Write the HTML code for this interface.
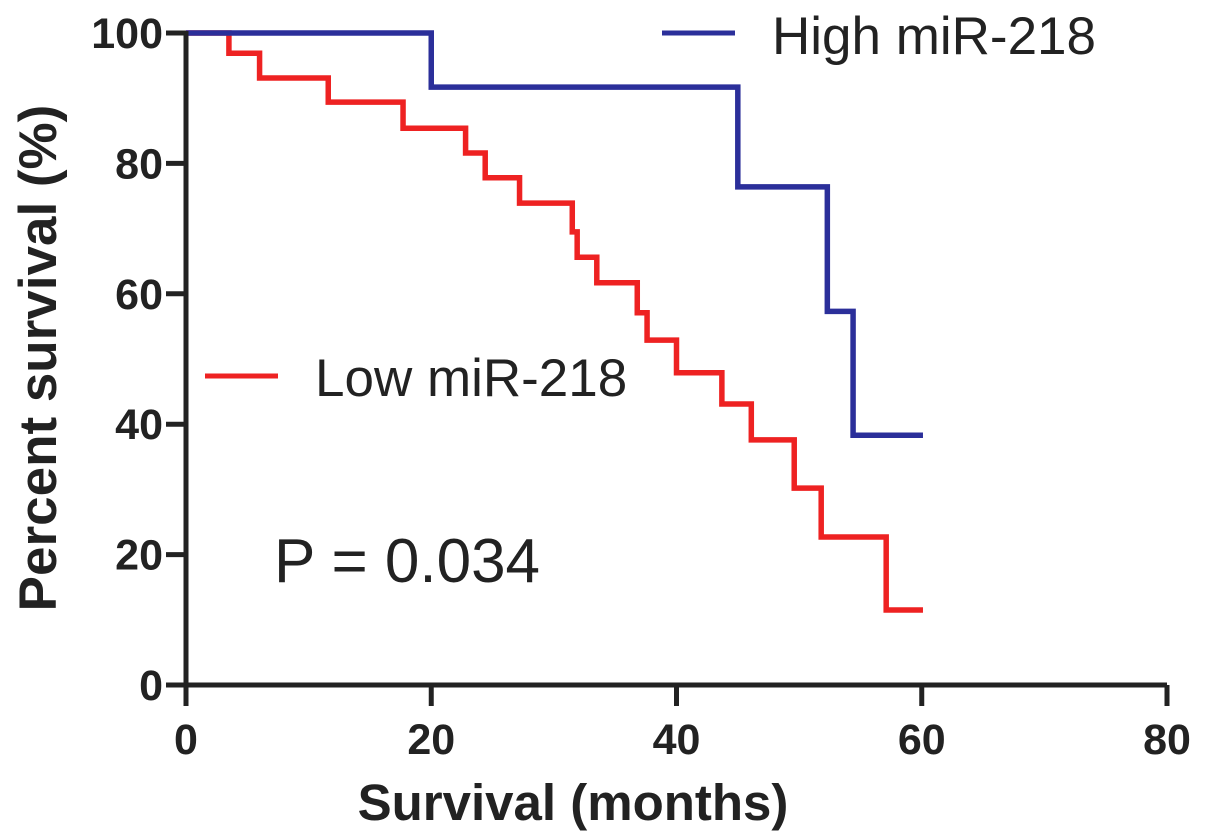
<!DOCTYPE html>
<html><head><meta charset="utf-8"><style>
html,body{margin:0;padding:0;background:#fff;}
svg{display:block;font-family:"Liberation Sans",Arial,sans-serif;}
</style></head><body>
<svg id="chart" width="1205" height="840"></svg>
<script>
const xTicks=[0,20,40,60,80];
const yTicks=[0,20,40,60,80,100];
const highX=[0,20.0,45.0,52.3,54.4,60.1];
const highY=[100,91.7,76.4,57.3,38.3,38.3];
const lowX=[0,3.5,6.0,11.6,17.7,22.8,24.4,27.2,31.5,31.9,33.5,36.8,37.6,40.0,43.7,46.1,49.6,51.8,57.1,60.1];
const lowY=[100,96.9,93.1,89.4,85.4,81.6,77.8,73.9,69.5,65.6,61.7,57.1,52.9,47.9,43.1,37.6,30.2,22.7,11.5,11.5];
const NS='http://www.w3.org/2000/svg';
const svg=document.getElementById('chart');
const X0=186,X1=1167,Y0=685,Y1=33;
const sx=v=>X0+(X1-X0)*v/80;
const sy=v=>Y0-(Y0-Y1)*v/100;
function mk(tag,attrs,parent){const e=document.createElementNS(NS,tag);for(const k in attrs)e.setAttribute(k,attrs[k]);(parent||svg).appendChild(e);return e;}
function step(xs,ys){let d='M'+sx(xs[0])+','+sy(ys[0]);for(let i=1;i<xs.length;i++){d+=' H'+sx(xs[i])+' V'+sy(ys[i]);}return d;}
const red=mk('path',{d:step(lowX,lowY),fill:'none',stroke:'#ee2222','stroke-width':5.5});


const blue=mk('path',{d:step(highX,highY),fill:'none',stroke:'#2b2f9a','stroke-width':5.5});


const ax=mk('path',{d:`M${X0},${Y1-2} V${Y0} H${X1}`,fill:'none',stroke:'#222','stroke-width':5});


yTicks.forEach(v=>{
  const t=mk('line',{x1:X0-20,x2:X0,y1:sy(v),y2:sy(v),stroke:'#222','stroke-width':5});
  
  
  const l=mk('text',{x:X0-23,y:sy(v)+15,'text-anchor':'end','font-size':43,'font-weight':'bold',fill:'#222'});
  l.textContent=v;
  
  
});
xTicks.forEach(v=>{
  const t=mk('line',{x1:sx(v),x2:sx(v),y1:Y0,y2:Y0+21,stroke:'#222','stroke-width':5});
  
  
  const l=mk('text',{x:sx(v),y:754,'text-anchor':'middle','font-size':43,'font-weight':'bold',fill:'#222'});
  l.textContent=v;
  
  
});
const xt=mk('text',{x:573,y:820,'text-anchor':'middle','font-size':51,'font-weight':'bold',fill:'#222'});
xt.textContent='Survival (months)';


const yt=mk('text',{x:0,y:0,transform:'translate(56,358) rotate(-90)','text-anchor':'middle','font-size':53,'font-weight':'bold',fill:'#222'});
yt.textContent='Percent survival (%)';


const lh=mk('line',{x1:662,x2:735,y1:33,y2:33,stroke:'#2b2f9a','stroke-width':5});


const th=mk('text',{x:772,y:54,'font-size':53,fill:'#222'});
th.textContent='High miR-218';


const ll=mk('line',{x1:205,x2:278,y1:376,y2:376,stroke:'#ee2222','stroke-width':5});


const tl=mk('text',{x:315,y:396,'font-size':53,fill:'#222'});
tl.textContent='Low miR-218';


const p=mk('text',{x:274,y:582,'font-size':62,fill:'#222'});
p.textContent='P = 0.034';


</script>
</body></html>
